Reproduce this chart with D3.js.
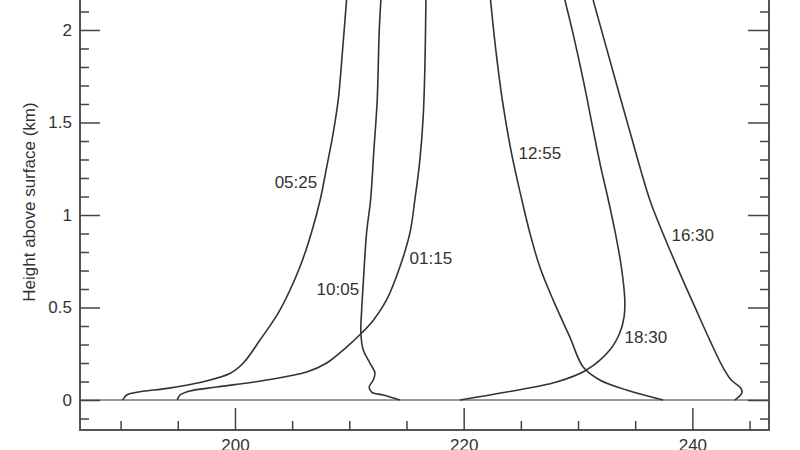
<!DOCTYPE html>
<html>
<head>
<meta charset="utf-8">
<script src="https://cdn.jsdelivr.net/npm/d3@7"></script>
<style>
  body { margin: 0; background: #fff; }
  svg { display: block; }
  text { font-family: "Liberation Sans", Arial, sans-serif; fill: #333; }
</style>
</head>
<body>
<script>
// temperature (K) vs height above surface (km)
var p0525 = [[190.18,0],[190.53,0.027],[191.7,0.045],[194.1,0.063],[196.94,0.095],[199.6,0.145],[200.73,0.2],
             [202.19,0.324],[203.93,0.486],[205.68,0.719],[206.68,0.903],[207.45,1.081],[208.02,1.259],[208.59,1.443],
             [209.03,1.622],[209.41,1.892],[209.76,2.162]]
var p1005 = [[214.42,0],[212.96,0.027],[211.95,0.043],[211.74,0.07],[212.09,0.108],[212.24,0.146],[211.8,0.2],[211.22,0.27],
             [211.01,0.362],[211.08,0.486],[211.22,0.632],[211.51,0.903],[211.86,1.081],[212.15,1.351],[212.44,1.622],
             [212.61,1.984],[212.76,2.162]]
var p0115 = [[194.96,0],[195.19,0.027],[196.07,0.049],[198.4,0.07],[202.77,0.108],[206.27,0.151],[208.02,0.2],[209.76,0.286],
             [211.08,0.362],[212.09,0.43],[213.26,0.541],[214.42,0.719],[215.3,0.903],[215.73,1.081],[216.17,1.297],
             [216.46,1.53],[216.61,1.8],[216.7,2.162]]
var p1255 = [[237.44,0],[234.24,0.054],[231.9,0.108],[230.45,0.178],[229.28,0.341],[227.82,0.541],[226.66,0.719],
             [225.79,0.903],[225.09,1.081],[224.13,1.351],[223.38,1.622],[222.81,1.892],[222.35,2.162]]
var p1830 = [[219.67,0],[223.75,0.043],[228.12,0.097],[230.74,0.162],[232.78,0.27],[233.65,0.362],[234.03,0.449],
             [234.09,0.541],[233.79,0.719],[233.26,0.903],[232.65,1.081],[231.99,1.259],[231.38,1.443],[230.51,1.714],
             [229.55,1.984],[228.85,2.162]]
var p1630 = [[243.71,0],[244.32,0.038],[244.23,0.065],[243.4,0.108],[242.66,0.178],[241.52,0.324],[240.34,0.486],
             [238.9,0.686],[237.41,0.903],[236.28,1.081],[234.57,1.443],[232.95,1.8],[231.32,2.162]]

var profiles = [p0525, p1005, p0115, p1255, p1830, p1630]
var labels = ['05:25', '10:05', '01:15', '12:55', '18:30', '16:30']
var labelPos = [[205.33,1.178],[209.0,0.6],[217.13,0.768],[226.66,1.335],[235.93,0.341],[240.03,0.892]]

var xMajor = [200, 220, 240]
var xMinor = [190, 195, 205, 210, 215, 225, 230, 235, 245]
var yMajor = [0, 0.5, 1, 1.5, 2]
var yMinor = [-0.1, 0.1, 0.2, 0.3, 0.4, 0.6, 0.7, 0.8, 0.9, 1.1, 1.2, 1.3, 1.4, 1.6, 1.7, 1.8, 1.9, 2.1]

var width = 800, height = 450
var left = 80, right = 769, bottom = 430

var x = d3.scaleLinear().domain([186.45, 246.7]).range([left, right])
var y = d3.scaleLinear().domain([-0.162, 2.162]).range([bottom, 0])

var svg = d3.select('body').append('svg')
    .attr('width', width)
    .attr('height', height)

// zero line
svg.append('line')
    .attr('x1', left).attr('x2', right)
    .attr('y1', y(0)).attr('y2', y(0))
    .attr('stroke', '#999').attr('stroke-width', 2)

// frame (top edge is outside the picture)
svg.append('path')
    .attr('d', 'M' + left + ',-2V' + bottom + 'H' + right + 'V-2')
    .attr('fill', 'none').attr('stroke', '#555').attr('stroke-width', 2)

function styleAxis(g) {
    g.select('.domain').remove()
    g.selectAll('.tick line').attr('stroke', '#444').attr('stroke-width', 1.5)
    g.selectAll('.tick text').style('font-size', '17px')
        .style('font-family', '"Liberation Sans", Arial, sans-serif').attr('fill', '#333')
}

// left axis
svg.append('g').attr('transform', 'translate(' + left + ',0)')
    .call(d3.axisLeft(y).tickValues(yMajor).tickSizeInner(-20).tickSizeOuter(0).tickPadding(8)
        .tickFormat(function (d) { return d })).call(styleAxis)
svg.append('g').attr('transform', 'translate(' + left + ',0)')
    .call(d3.axisLeft(y).tickValues(yMinor).tickSizeInner(-9).tickSizeOuter(0).tickFormat('')).call(styleAxis)

// right axis
svg.append('g').attr('transform', 'translate(' + right + ',0)')
    .call(d3.axisRight(y).tickValues(yMajor).tickSizeInner(-21).tickSizeOuter(0).tickFormat('')).call(styleAxis)
svg.append('g').attr('transform', 'translate(' + right + ',0)')
    .call(d3.axisRight(y).tickValues(yMinor).tickSizeInner(-9).tickSizeOuter(0).tickFormat('')).call(styleAxis)

// bottom axis
svg.append('g').attr('transform', 'translate(0,' + bottom + ')')
    .call(d3.axisBottom(x).tickValues(xMajor).tickSizeInner(-22).tickSizeOuter(0).tickPadding(9)).call(styleAxis)
svg.append('g').attr('transform', 'translate(0,' + bottom + ')')
    .call(d3.axisBottom(x).tickValues(xMinor).tickSizeInner(-9).tickSizeOuter(0).tickFormat('')).call(styleAxis)

// y title
svg.append('text')
    .attr('transform', 'translate(35,' + y(1.07) + ') rotate(-90)')
    .attr('text-anchor', 'middle')
    .style('font-size', '17px')
    .text('Height above surface (km)')

var line = d3.line()
    .x(function (d) { return x(d[0]) })
    .y(function (d) { return y(d[1]) })
    .curve(d3.curveCatmullRom.alpha(0.5))

svg.append('g').selectAll('path')
    .data(profiles)
    .enter().append('path')
    .attr('d', line)
    .attr('fill', 'none')
    .attr('stroke', '#333')
    .attr('stroke-width', 1.6)

svg.append('g').selectAll('text')
    .data(labels)
    .enter().append('text')
    .attr('x', function (d, i) { return x(labelPos[i][0]) })
    .attr('y', function (d, i) { return y(labelPos[i][1]) })
    .attr('dy', '0.35em')
    .attr('text-anchor', 'middle')
    .style('font-size', '17px')
    .text(function (d) { return d })
</script>
</body>
</html>
